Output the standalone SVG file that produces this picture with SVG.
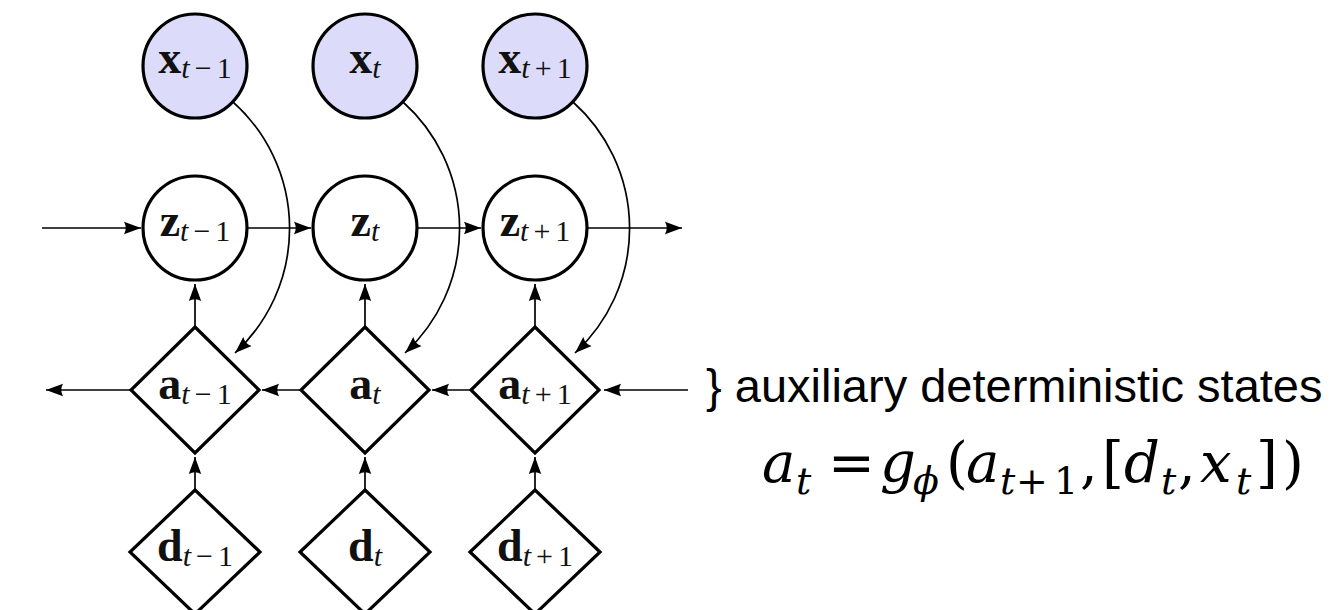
<svg xmlns="http://www.w3.org/2000/svg" width="1336" height="610" viewBox="0 0 1336 610">
<defs>
<marker id="ah" markerUnits="userSpaceOnUse" markerWidth="18" markerHeight="14" refX="17" refY="7" orient="auto">
<path d="M0,0.8 L17,7 L0,13.2 Q3.5,7 0,0.8 z" fill="#000"/>
</marker>
</defs>
<style>
.obs{fill:#dcdcfa;stroke:#000;stroke-width:3.2}
.lat{fill:#fff;stroke:#000;stroke-width:3.2}
.det{fill:#fff;stroke:#000;stroke-width:3.2;stroke-linejoin:miter}
.edge{fill:none;stroke:#000;stroke-width:1.7;marker-end:url(#ah)}
.lab{font-family:"Liberation Serif",serif;text-anchor:middle;fill:#111}
.b{font-weight:bold;font-size:46px}
.s{font-size:30px}
.i{font-style:italic}
.note{font-family:"Liberation Sans",Arial,sans-serif;font-size:47px;fill:#000}
.eq{font-family:"DejaVu Serif",serif;font-style:italic;font-size:56px;fill:#000}
.eqs{font-size:38px}
.eqn{font-style:normal}
</style>
<rect width="1336" height="610" fill="#fff"/>

<g id="connectors">
<line class="edge" x1="42" y1="228" x2="141" y2="228"/>
<line class="edge" x1="248" y1="228" x2="311" y2="228"/>
<line class="edge" x1="418" y1="228" x2="481" y2="228"/>
<line class="edge" x1="588" y1="228" x2="682" y2="228"/>
<line class="edge" x1="131" y1="390" x2="46" y2="390"/>
<line class="edge" x1="301" y1="390" x2="262" y2="390"/>
<line class="edge" x1="471" y1="390" x2="432" y2="390"/>
<line class="edge" x1="688" y1="390" x2="604" y2="390"/>
<line class="edge" x1="195" y1="328" x2="195" y2="284"/>
<line class="edge" x1="365" y1="328" x2="365" y2="284"/>
<line class="edge" x1="535" y1="328" x2="535" y2="284"/>
<line class="edge" x1="195" y1="490" x2="195" y2="457"/>
<line class="edge" x1="365" y1="490" x2="365" y2="457"/>
<line class="edge" x1="535" y1="490" x2="535" y2="457"/>
<path class="edge" d="M233,102 A169.5,169.5 0 0 1 235,353"/>
<path class="edge" d="M403,102 A169.5,169.5 0 0 1 405,353"/>
<path class="edge" d="M573,102 A169.5,169.5 0 0 1 575,353"/>
</g>

<g id="x_tm1"><circle class="obs" cx="195" cy="66" r="52"/>
<text class="lab" x="195" y="73"><tspan class="b">x</tspan><tspan class="s" dy="5"><tspan class="i">t</tspan><tspan dx="5">−</tspan><tspan dx="5">1</tspan></tspan></text></g>
<g id="x_t"><circle class="obs" cx="365" cy="66" r="52"/>
<text class="lab" x="365" y="73"><tspan class="b">x</tspan><tspan class="s i" dy="5">t</tspan></text></g>
<g id="x_tp1"><circle class="obs" cx="535" cy="66" r="52"/>
<text class="lab" x="535" y="73"><tspan class="b">x</tspan><tspan class="s" dy="5"><tspan class="i">t</tspan><tspan dx="5">+</tspan><tspan dx="5">1</tspan></tspan></text></g>

<g id="z_tm1"><circle class="lat" cx="195" cy="228" r="52"/>
<text class="lab" x="195" y="236"><tspan class="b">z</tspan><tspan class="s" dy="5"><tspan class="i">t</tspan><tspan dx="5">−</tspan><tspan dx="5">1</tspan></tspan></text></g>
<g id="z_t"><circle class="lat" cx="365" cy="228" r="52"/>
<text class="lab" x="365" y="236"><tspan class="b">z</tspan><tspan class="s i" dy="5">t</tspan></text></g>
<g id="z_tp1"><circle class="lat" cx="535" cy="228" r="52"/>
<text class="lab" x="535" y="236"><tspan class="b">z</tspan><tspan class="s" dy="5"><tspan class="i">t</tspan><tspan dx="5">+</tspan><tspan dx="5">1</tspan></tspan></text></g>

<g id="a_tm1"><polygon class="det" points="195,327 259,390 195,453 131,390"/>
<text class="lab" x="195" y="399"><tspan class="b">a</tspan><tspan class="s" dy="5"><tspan class="i">t</tspan><tspan dx="5">−</tspan><tspan dx="5">1</tspan></tspan></text></g>
<g id="a_t"><polygon class="det" points="365,327 429,390 365,453 301,390"/>
<text class="lab" x="365" y="399"><tspan class="b">a</tspan><tspan class="s i" dy="5">t</tspan></text></g>
<g id="a_tp1"><polygon class="det" points="535,327 599,390 535,453 471,390"/>
<text class="lab" x="535" y="399"><tspan class="b">a</tspan><tspan class="s" dy="5"><tspan class="i">t</tspan><tspan dx="5">+</tspan><tspan dx="5">1</tspan></tspan></text></g>

<g id="d_tm1"><polygon class="det" points="195,490 260,552 195,614 130,552"/>
<text class="lab" x="195" y="561"><tspan class="b">d</tspan><tspan class="s" dy="5"><tspan class="i">t</tspan><tspan dx="5">−</tspan><tspan dx="5">1</tspan></tspan></text></g>
<g id="d_t"><polygon class="det" points="365,490 430,552 365,614 300,552"/>
<text class="lab" x="365" y="561"><tspan class="b">d</tspan><tspan class="s i" dy="5">t</tspan></text></g>
<g id="d_tp1"><polygon class="det" points="535,490 600,552 535,614 470,552"/>
<text class="lab" x="535" y="561"><tspan class="b">d</tspan><tspan class="s" dy="5"><tspan class="i">t</tspan><tspan dx="5">+</tspan><tspan dx="5">1</tspan></tspan></text></g>

<g id="annotation">
<text class="note" x="706" y="402">} auxiliary deterministic states</text>
<text class="eq" y="482"><tspan x="762">a</tspan><tspan class="eqs" x="796" dy="12">t</tspan><tspan class="eqn" x="828" dy="-12">=</tspan><tspan x="880">g</tspan><tspan class="eqs" x="913" dy="12">ϕ</tspan><tspan class="eqn" x="946" dy="-12">(</tspan><tspan x="966">a</tspan><tspan class="eqs" x="1000" dy="12">t</tspan><tspan class="eqs eqn" x="1016">+</tspan><tspan class="eqs eqn" x="1054">1</tspan><tspan class="eqn" x="1080" dy="-12">,</tspan><tspan class="eqn" x="1102">[</tspan><tspan x="1124">d</tspan><tspan class="eqs" x="1161" dy="12">t</tspan><tspan class="eqn" x="1178" dy="-12">,</tspan><tspan x="1200">x</tspan><tspan class="eqs" x="1236" dy="12">t</tspan><tspan class="eqn" x="1256" dy="-12">]</tspan><tspan class="eqn" x="1282">)</tspan></text>
</g>
</svg>
